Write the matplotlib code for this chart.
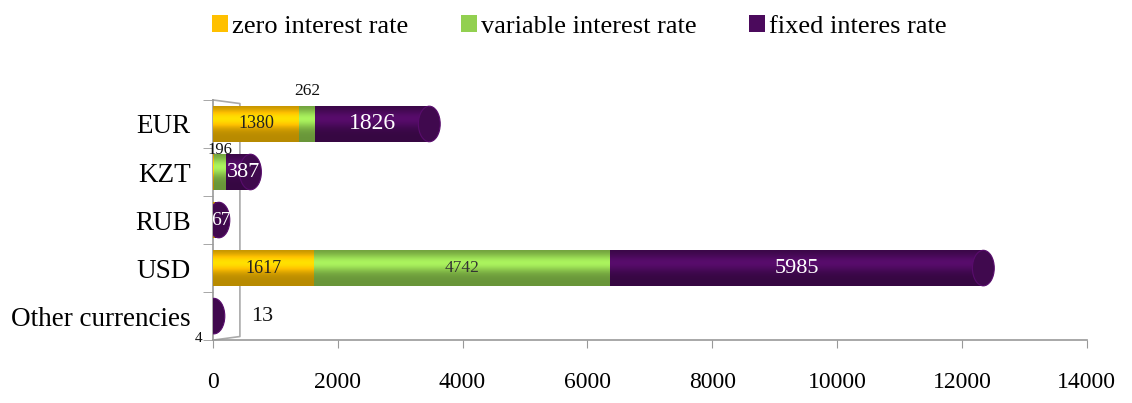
import numpy as np
import matplotlib.pyplot as plt
from matplotlib.patches import Ellipse
from matplotlib.colors import to_rgb

plt.rcParams['font.family'] = ['Liberation Serif', 'DejaVu Serif']

# Daten (von oben nach unten wie im Original)
categories = ['EUR', 'KZT', 'RUB', 'USD', 'Other currencies']
zero_rate = [1380, 20, 30, 1617, 4]
variable_rate = [262, 196, 0, 4742, 0]
fixed_rate = [1826, 387, 67, 5985, 13]

series_names = ['zero interest rate', 'variable interest rate', 'fixed interes rate']
series_values = [zero_rate, variable_rate, fixed_rate]
series_colors = ['#FFC000', '#92D050', '#4B0A5C']

# beschriftete Werte: (Zeile, Serie) -> Versatz in Punkten, Schriftgröße, Farbe
shown_labels = {
    (0, 0): (0, 0, 13, '#222222'), (0, 1): (0, 24, 12.5, '#111111'),
    (0, 2): (0, 0, 17, 'white'),
    (1, 1): (0, 16, 12, '#111111'), (1, 2): (4, 0, 16, 'white'),
    (2, 2): (3, 0, 14, 'white'),
    (3, 0): (0, 0, 13, '#222222'), (3, 1): (0, 0, 12.5, '#333333'),
    (3, 2): (0, 0, 16, 'white'),
    (4, 0): (-10, -16, 11, '#111111'), (4, 2): (35, 0, 16, '#111111'),
}

bar_h = 0.74
cap_w = 350
y = np.arange(len(categories))[::-1]


def shaded(col):
    # vertikaler Verlauf für den Zylinder-Effekt
    t = np.linspace(0, 1, 64)
    f = 0.72 + 0.45 * np.exp(-((t - 0.35) / 0.25) ** 2)
    rgb = np.clip(np.array(to_rgb(col))[None, :] * f[:, None], 0, 1)
    return rgb[:, None, :]


fig = plt.figure(figsize=(11.32, 4.03), dpi=100)
ax = fig.add_axes([0.188, 0.156, 0.772, 0.596])

# angedeutete Rückwand (3D-Effekt)
ax.plot([0, 0.031, 0.031, 0], [1, 0.985, 0.015, 0], transform=ax.transAxes,
        color='#aaaaaa', lw=1.2, zorder=1, clip_on=False)

left = np.zeros(len(categories))
last_col = [None] * len(categories)
for s, vals in enumerate(series_values):
    vals = np.array(vals, dtype=float)
    bars = ax.barh(y, vals, left=left, height=bar_h, color=series_colors[s],
                   label=series_names[s], zorder=2)
    for i, b in enumerate(bars):
        if vals[i] <= 0:
            continue
        last_col[i] = series_colors[s]
        im = ax.imshow(shaded(series_colors[s]), aspect='auto', zorder=3,
                       extent=[b.get_x(), b.get_x() + b.get_width(),
                               b.get_y(), b.get_y() + b.get_height()])
        im.set_clip_path(b)
        if (i, s) in shown_labels:
            dx, dy, fs, tc = shown_labels[(i, s)]
            ax.annotate('%d' % vals[i], (b.get_x() + b.get_width() / 2, y[i]),
                        xytext=(dx, dy), textcoords='offset points',
                        ha='center', va='center', color=tc, fontsize=fs, zorder=6)
    left += vals

# Zylinderdeckel am Ende jedes Balkens
for i in range(len(categories)):
    c = np.array(to_rgb(last_col[i])) * 0.85
    ax.add_patch(Ellipse((left[i], y[i]), cap_w, bar_h, facecolor=c,
                         edgecolor=np.clip(c * 1.4, 0, 1), lw=0.8, zorder=4))

ax.set_xlim(0, 14000)
ax.set_ylim(-0.5, len(categories) - 0.5)
ax.set_xticks(np.arange(0, 14001, 2000))
ax.set_yticks(y)
ax.set_yticklabels(categories)
ax.set_yticks(np.arange(-0.5, len(categories), 1), minor=True)
ax.tick_params(axis='y', which='major', length=0, labelsize=19.5, pad=16)
ax.tick_params(axis='y', which='minor', length=7, color='#999999', direction='out')
ax.tick_params(axis='x', length=6, color='#999999', labelsize=17, pad=17)
for side in ['top', 'right']:
    ax.spines[side].set_visible(False)
for side in ['left', 'bottom']:
    ax.spines[side].set_color('#999999')
    ax.spines[side].set_linewidth(1.2)

fig.legend(*ax.get_legend_handles_labels(), loc='center', ncol=3,
           bbox_to_anchor=(0.512, 0.935), frameon=False, fontsize=19,
           handlelength=0.6, handleheight=0.6, handletextpad=0.15, columnspacing=2.0)

fig.savefig('out.png', dpi=100)
